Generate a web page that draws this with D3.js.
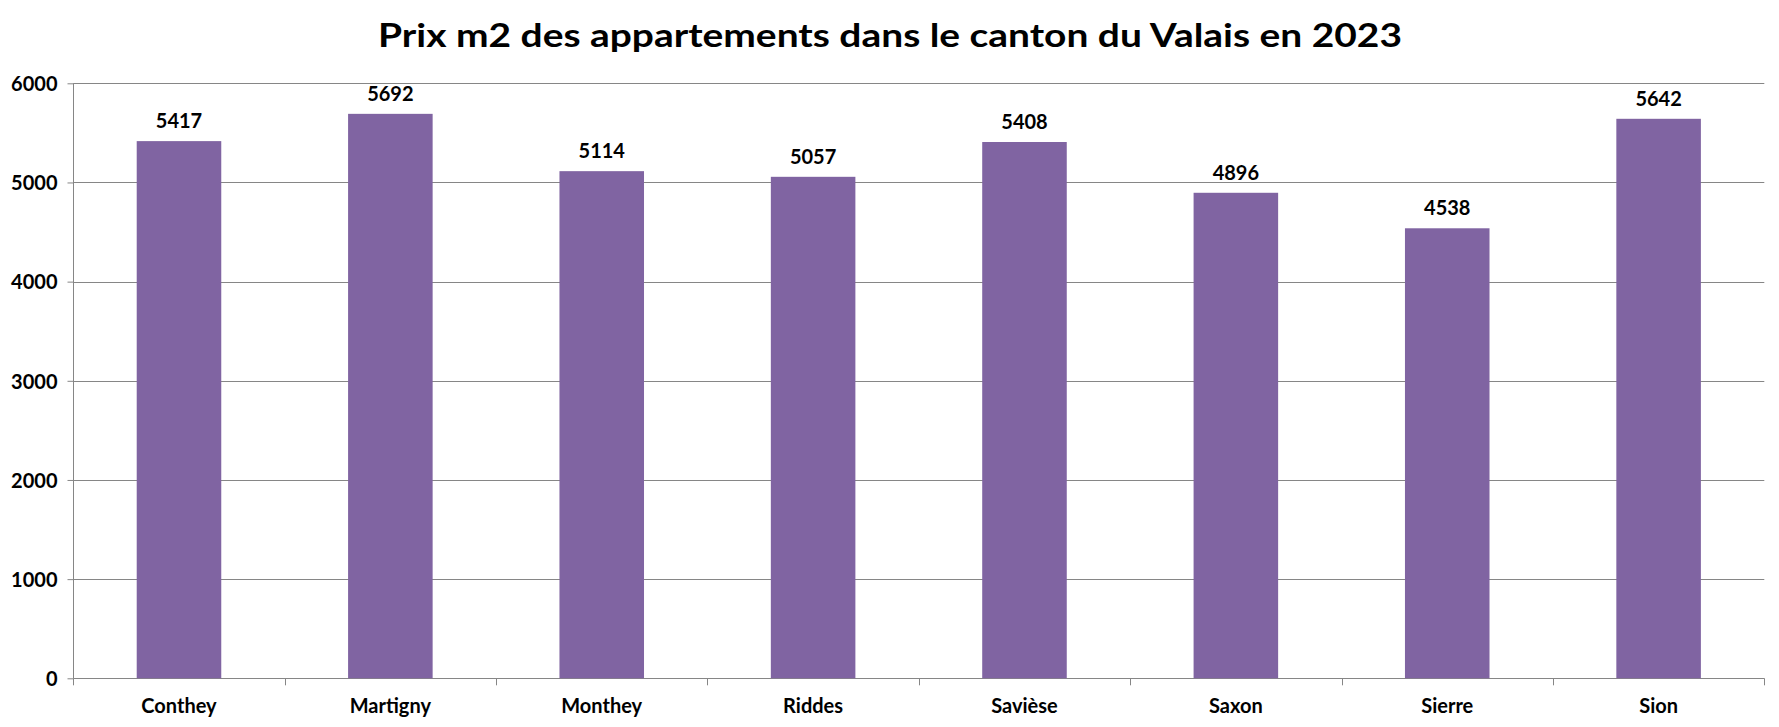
<!DOCTYPE html>
<html>
<head>
<meta charset="utf-8">
<script src="https://cdn.jsdelivr.net/npm/d3@7"></script>
<style>
  html, body { margin: 0; padding: 0; background: #fff; }
  text { font-family: Lato, "Open Sans", sans-serif; font-weight: bold; fill: #000; }
</style>
</head>
<body>
<svg id="chart" width="1779" height="727"></svg>
<script>
const titleText = "Prix m2 des appartements dans le canton du Valais en 2023";
const categories = ["Conthey", "Martigny", "Monthey", "Riddes", "Savièse", "Saxon", "Sierre", "Sion"];
const values = [5417, 5692, 5114, 5057, 5408, 4896, 4538, 5642];
const yTicks = [0, 1000, 2000, 3000, 4000, 5000, 6000];

(function () {
const svg = d3.select("#chart");
const pLeft = 73.3, pRight = 1764.3, pTop = 83.3, pBottom = 678.3;
const gridColor = "#868686";

const x = d3.scaleBand().domain(categories).range([pLeft, pRight]).paddingInner(0.6).paddingOuter(0.3);
const y = d3.scaleLinear().domain([0, 6000]).range([pBottom, pTop]);

// Title
svg.append("text")
  .attr("x", 378).attr("y", 46.5)
  .attr("font-size", 32)
  .attr("textLength", 1024)
  .attr("lengthAdjust", "spacingAndGlyphs")
  .text(titleText);

// Gridlines
svg.append("g").selectAll("line").data(yTicks.filter(d => d > 0)).join("line")
  .attr("x1", pLeft).attr("x2", pRight)
  .attr("y1", d => Math.round(y(d)) + 0.5).attr("y2", d => Math.round(y(d)) + 0.5)
  .attr("stroke", gridColor).attr("stroke-width", 1);

// Y axis
const yAxis = d3.axisLeft(y).tickValues(yTicks).tickSize(6).tickPadding(10).tickFormat(d3.format("d"));
const gy = svg.append("g").attr("transform", `translate(${Math.round(pLeft) + 0.5},0)`).call(yAxis);
gy.selectAll("path, line").attr("stroke", gridColor);
gy.select(".domain").attr("d", `M0,${y(6000)}V${pBottom}`);
gy.selectAll("text").attr("font-size", 20).attr("font-family", "Lato, sans-serif").attr("font-weight", "bold").attr("fill", "#000").attr("dy", "0.36em");

// X axis
const xb = d3.scaleLinear().domain([0, categories.length]).range([pLeft, pRight]);
const gx = svg.append("g");
gx.append("line").attr("x1", pLeft).attr("x2", pRight)
  .attr("y1", Math.round(pBottom) + 0.5).attr("y2", Math.round(pBottom) + 0.5)
  .attr("stroke", gridColor);
gx.selectAll("line.tick").data(d3.range(categories.length + 1)).join("line")
  .attr("class", "tick")
  .attr("x1", d => Math.round(xb(d)) + 0.5).attr("x2", d => Math.round(xb(d)) + 0.5)
  .attr("y1", pBottom).attr("y2", pBottom + 7)
  .attr("stroke", gridColor);
gx.selectAll("text").data(categories).join("text")
  .attr("x", d => x(d) + x.bandwidth() / 2)
  .attr("y", 713)
  .attr("text-anchor", "middle")
  .attr("font-size", 20)
  .text(d => d);

// Bars
svg.append("g").selectAll("rect").data(values).join("rect")
  .attr("x", (d, i) => x(categories[i]))
  .attr("width", x.bandwidth())
  .attr("y", d => y(d))
  .attr("height", d => pBottom - y(d))
  .attr("fill", "#8064A2");

// Value labels
svg.append("g").selectAll("text").data(values).join("text")
  .attr("x", (d, i) => x(categories[i]) + x.bandwidth() / 2)
  .attr("y", d => y(d) - 13)
  .attr("text-anchor", "middle")
  .attr("font-size", 20)
  .text(d => d);
})();
</script>
</body>
</html>
